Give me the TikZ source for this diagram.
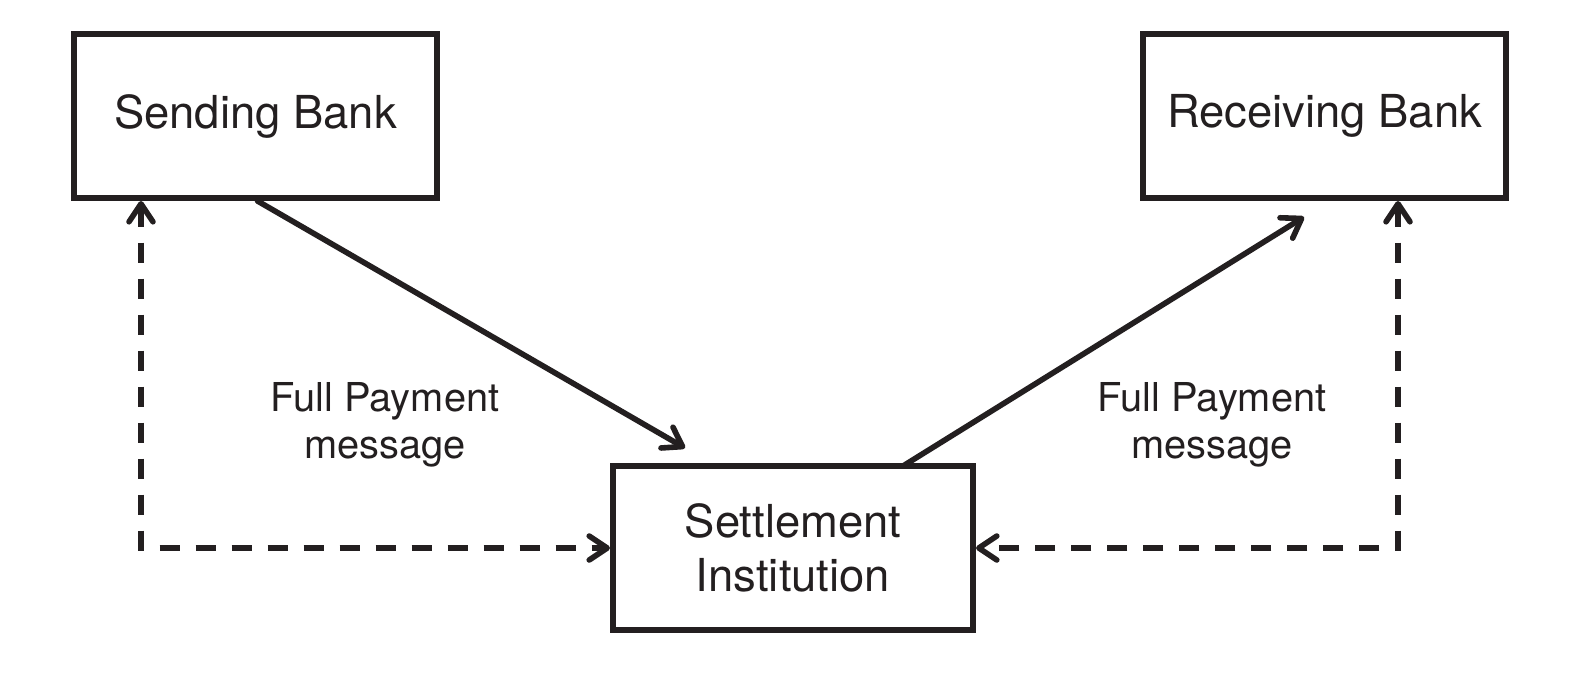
\documentclass[tikz,border=0pt]{standalone}
\usepackage{fontspec}
\setmainfont{TeX Gyre Heros}
\usetikzlibrary{arrows.meta,calc}
\definecolor{ink}{HTML}{231F20}
\newlength{\unitpx}\setlength{\unitpx}{0.5pt}
\tikzset{
  box/.style={draw=ink, line width=3pt, minimum width=363\unitpx, minimum height=164\unitpx, inner sep=0pt, align=center, text=ink, font=\fontsize{22.7pt}{26.7pt}\selectfont},
  lbl/.style={align=center, text=ink, font=\fontsize{19.9pt}{23.5pt}\selectfont},
  conn/.style={draw=ink, line width=2.8pt, line cap=round, -{Straight Barb[length=9pt,width=12pt,line cap=round,line join=round]}},
  dconn/.style={draw=ink, line width=2.8pt, dash pattern=on 10pt off 8pt, {Straight Barb[length=9pt,width=12pt,line cap=round,line join=round]}-{Straight Barb[length=9pt,width=12pt,line cap=round,line join=round]}}
}
\begin{document}
\begin{tikzpicture}[x=0.5pt,y=-0.5pt]
\useasboundingbox (0,0) rectangle (1579,674);
\node[box] (send) at (255.5,116) {Sending Bank};
\node[box] (recv) at (1324.5,116) {Receiving Bank};
\node[box, minimum width=360\unitpx] (settle) at (793,548) {Settlement\\Institution};
\coordinate (t1) at (685,448);
\coordinate (s2) at (903,466);
\coordinate (t2) at (1304,217);
\coordinate (lc) at (141,548);
\coordinate (rc) at (1398,548);
\draw[conn] (send.south) ++(2,0) -- (t1);
\draw[conn] (s2) -- (t2);
\draw[dconn] (lc |- send.south) -- (lc) -- (settle.west);
\draw[dconn] (rc |- recv.south) -- (rc) -- (settle.east);
\node[lbl] (l1) at (385,425) {Full Payment\\message};
\node[lbl] (l2) at (1212,425) {Full Payment\\message};
\end{tikzpicture}
\end{document}
